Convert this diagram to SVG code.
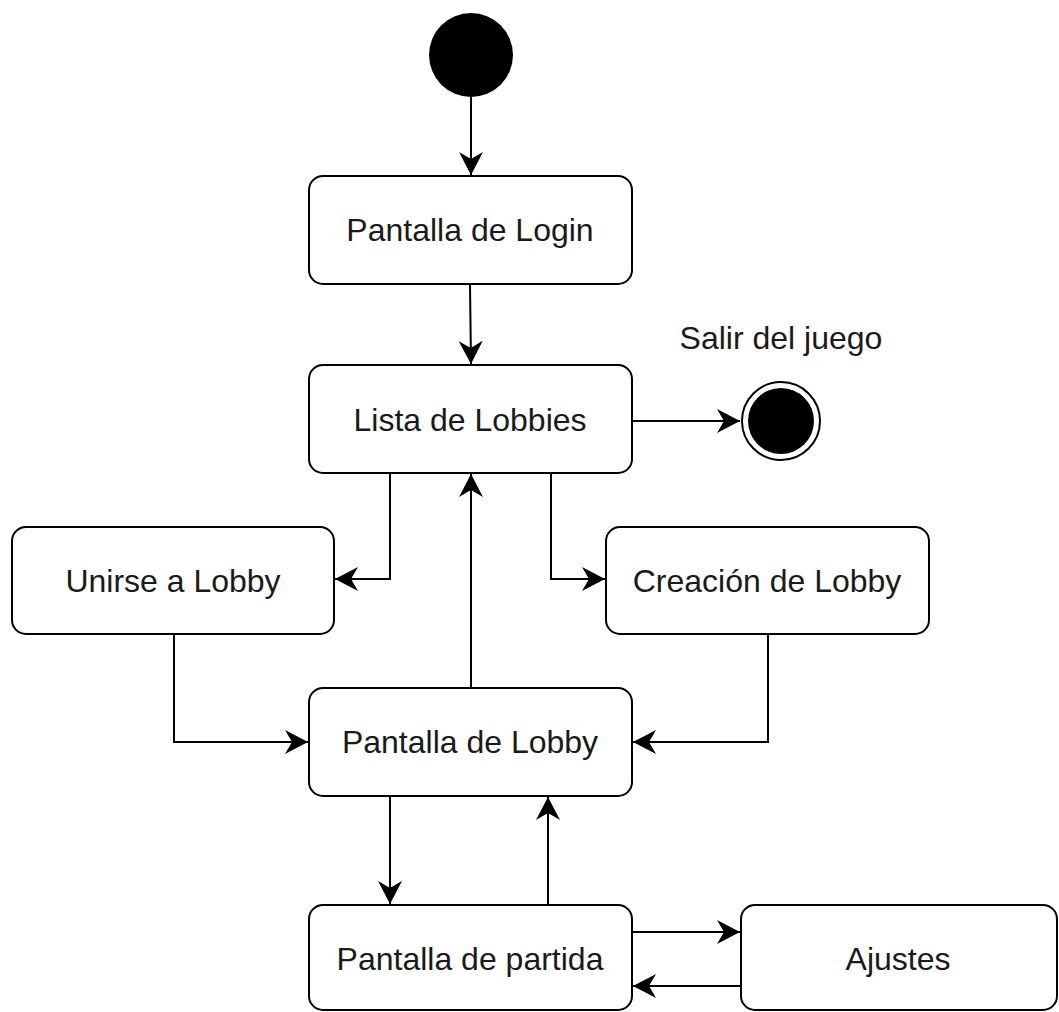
<svg xmlns="http://www.w3.org/2000/svg" width="1059" height="1012" viewBox="0 0 1059 1012">
<style>
.box{fill:#fff;stroke:#000;stroke-width:2}
.lbl{font-family:"Liberation Sans",Arial,sans-serif;font-size:32px;fill:#1a1a1a;text-anchor:middle;dominant-baseline:central}
.c{fill:none;stroke:#000;stroke-width:2}
</style>
<defs>
<marker id="arr" markerUnits="userSpaceOnUse" viewBox="-25 -13 27 26" markerWidth="27" markerHeight="26" refX="0" refY="0" orient="auto">
<path d="M0,0 L-23,-12 L-16,0 L-23,12 Z" fill="#000"/>
</marker>
</defs>
<rect width="1059" height="1012" fill="#fff"/>
<g id="connectors">
<path class="c" d="M471,97 L471,175" marker-end="url(#arr)"/>
<path class="c" d="M470,285 L471,364" marker-end="url(#arr)"/>
<path class="c" d="M633,421 L740,421" marker-end="url(#arr)"/>
<path class="c" d="M390,474 L390,579 L335,579" marker-end="url(#arr)"/>
<path class="c" d="M551,474 L551,579 L605,579" marker-end="url(#arr)"/>
<path class="c" d="M471,688 L471,474" marker-end="url(#arr)"/>
<path class="c" d="M174,635 L174,742 L308,742" marker-end="url(#arr)"/>
<path class="c" d="M768,635 L768,742 L633,742" marker-end="url(#arr)"/>
<path class="c" d="M390,797 L390,904" marker-end="url(#arr)"/>
<path class="c" d="M548,905 L548,797" marker-end="url(#arr)"/>
<path class="c" d="M633,932 L740,932" marker-end="url(#arr)"/>
<path class="c" d="M741,986 L633,986" marker-end="url(#arr)"/>
</g>
<g id="start"><circle cx="471" cy="55" r="42" fill="#000"/></g>
<g id="login"><rect class="box" x="309" y="176" width="323" height="108" rx="14"/><text class="lbl" x="470" y="230">Pantalla de Login</text></g>
<g id="lista"><rect class="box" x="309" y="365" width="323" height="108" rx="14"/><text class="lbl" x="470" y="420">Lista de Lobbies</text></g>
<g id="final"><circle cx="781" cy="421" r="39" fill="#fff" stroke="#000" stroke-width="2"/><circle cx="781" cy="421" r="33" fill="#000"/><text class="lbl" x="781" y="338">Salir del juego</text></g>
<g id="unirse"><rect class="box" x="12" y="527" width="322" height="107" rx="14"/><text class="lbl" x="173" y="581">Unirse a Lobby</text></g>
<g id="creacion"><rect class="box" x="606" y="527" width="323" height="107" rx="14"/><text class="lbl" x="767" y="581">Creación de Lobby</text></g>
<g id="lobby"><rect class="box" x="309" y="688" width="323" height="108" rx="14"/><text class="lbl" x="470" y="742">Pantalla de Lobby</text></g>
<g id="partida"><rect class="box" x="309" y="905" width="323" height="105" rx="14"/><text class="lbl" x="470" y="959">Pantalla de partida</text></g>
<g id="ajustes"><rect class="box" x="741" y="905" width="316" height="105" rx="14"/><text class="lbl" x="898" y="959">Ajustes</text></g>
</svg>
